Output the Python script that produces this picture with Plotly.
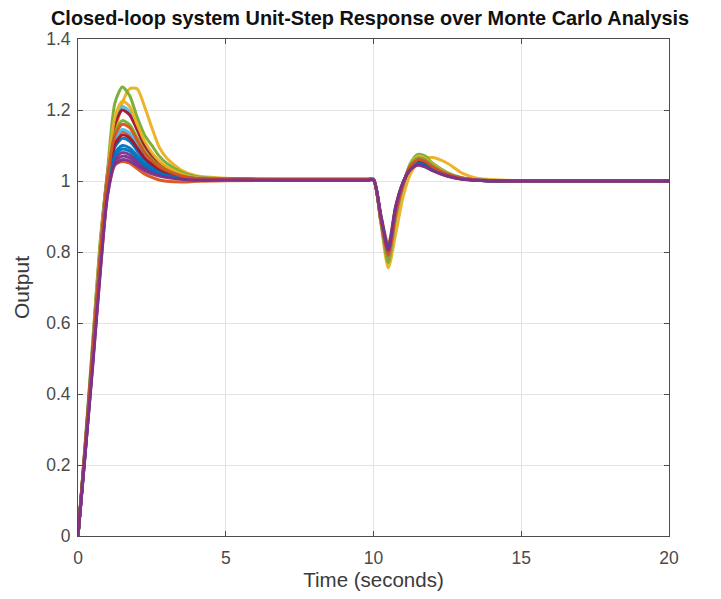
import plotly.graph_objects as go

# Time knots (seconds) shared by every Monte Carlo run
time_s = [0, 0.25, 0.5, 0.75, 1.0, 1.25, 1.5, 1.75, 2.0, 2.25, 2.5, 2.75, 3.0, 3.5, 4.0,
          5.0, 7.0, 9.8, 10.0, 10.25, 10.5, 10.75, 11.0, 11.25, 11.5, 11.75, 12.0, 12.5,
          13.0, 13.5, 14.5, 16.0, 20.0]

# Output of each run (order = drawing order)
run01 = [0, 0.25, 0.51, 0.77, 1.0, 1.08, 1.10, 1.093, 1.072, 1.05, 1.036, 1.025, 1.018, 1.009, 1.005,
         1.005, 1.004, 1.004, 1.004, 0.895, 0.80, 0.92, 0.993, 1.04, 1.055, 1.05, 1.036, 1.017, 1.007, 1.002, 1.0, 1.0, 1.0]
run02 = [0, 0.25, 0.52, 0.78, 1.01, 1.112, 1.14, 1.13, 1.10, 1.07, 1.05, 1.035, 1.025, 1.013, 1.006,
         1.005, 1.004, 1.004, 1.004, 0.89, 0.79, 0.91, 0.99, 1.042, 1.06, 1.055, 1.04, 1.019, 1.008, 1.003, 1.0, 1.0, 1.0]
run03 = [0, 0.25, 0.50, 0.76, 0.99, 1.13, 1.22, 1.26, 1.26, 1.21, 1.15, 1.095, 1.065, 1.03, 1.015,
         1.008, 1.005, 1.005, 1.005, 0.88, 0.755, 0.85, 0.955, 1.02, 1.05, 1.063, 1.066, 1.05, 1.022, 1.008, 1.002, 1.0, 1.0]
run04 = [0, 0.24, 0.49, 0.75, 0.97, 1.064, 1.08, 1.074, 1.058, 1.04, 1.029, 1.02, 1.014, 1.007, 1.004,
         1.004, 1.003, 1.003, 1.003, 0.90, 0.81, 0.925, 0.995, 1.035, 1.05, 1.045, 1.032, 1.015, 1.006, 1.002, 1.0, 1.0, 1.0]
run05 = [0, 0.27, 0.55, 0.83, 1.03, 1.22, 1.265, 1.24, 1.18, 1.13, 1.10, 1.07, 1.05, 1.025, 1.012,
         1.006, 1.005, 1.005, 1.005, 0.885, 0.77, 0.895, 0.985, 1.05, 1.075, 1.07, 1.05, 1.024, 1.009, 1.003, 1.0, 1.0, 1.0]
run06 = [0, 0.26, 0.54, 0.82, 1.02, 1.17, 1.21, 1.195, 1.15, 1.105, 1.075, 1.052, 1.038, 1.019, 1.01,
         1.006, 1.005, 1.005, 1.005, 0.885, 0.78, 0.90, 0.988, 1.046, 1.065, 1.06, 1.044, 1.02, 1.008, 1.003, 1.0, 1.0, 1.0]
run07 = [0, 0.26, 0.53, 0.81, 1.02, 1.16, 1.20, 1.186, 1.144, 1.10, 1.072, 1.05, 1.036, 1.018, 1.009,
         1.006, 1.005, 1.005, 1.005, 0.89, 0.79, 0.905, 0.99, 1.042, 1.06, 1.055, 1.04, 1.019, 1.008, 1.003, 1.0, 1.0, 1.0]
run08 = [0, 0.25, 0.52, 0.78, 1.0, 1.096, 1.12, 1.112, 1.086, 1.06, 1.043, 1.03, 1.022, 1.011, 1.005,
         1.005, 1.004, 1.004, 1.004, 0.895, 0.80, 0.915, 0.992, 1.04, 1.055, 1.05, 1.036, 1.017, 1.007, 1.002, 1.0, 1.0, 1.0]
run09 = [0, 0.24, 0.49, 0.74, 0.96, 1.045, 1.055, 1.05, 1.035, 1.02, 1.01, 1.003, 0.999, 0.997, 0.999,
         1.001, 1.002, 1.002, 1.002, 0.905, 0.82, 0.93, 0.997, 1.032, 1.045, 1.04, 1.029, 1.013, 1.005, 1.002, 1.0, 1.0, 1.0]
run10 = [0, 0.26, 0.54, 0.82, 1.02, 1.18, 1.225, 1.21, 1.16, 1.113, 1.08, 1.056, 1.04, 1.02, 1.01,
         1.006, 1.005, 1.005, 1.005, 0.885, 0.78, 0.895, 0.986, 1.048, 1.07, 1.064, 1.047, 1.021, 1.008, 1.003, 1.0, 1.0, 1.0]
run11 = [0, 0.24, 0.50, 0.76, 0.98, 1.056, 1.07, 1.065, 1.05, 1.035, 1.025, 1.018, 1.013, 1.006, 1.003,
         1.004, 1.003, 1.003, 1.003, 0.895, 0.80, 0.92, 0.994, 1.036, 1.05, 1.045, 1.032, 1.015, 1.006, 1.002, 1.0, 1.0, 1.0]
run12 = [0, 0.26, 0.53, 0.80, 1.01, 1.136, 1.17, 1.158, 1.122, 1.085, 1.061, 1.043, 1.031, 1.015, 1.008,
         1.005, 1.004, 1.004, 1.004, 0.885, 0.78, 0.90, 0.988, 1.046, 1.065, 1.06, 1.044, 1.02, 1.008, 1.003, 1.0, 1.0, 1.0]
run13 = [0, 0.25, 0.52, 0.79, 1.01, 1.116, 1.145, 1.135, 1.104, 1.073, 1.052, 1.036, 1.026, 1.013, 1.007,
         1.005, 1.004, 1.004, 1.004, 0.89, 0.79, 0.905, 0.99, 1.042, 1.06, 1.055, 1.04, 1.019, 1.008, 1.003, 1.0, 1.0, 1.0]
run14 = [0, 0.25, 0.52, 0.78, 1.0, 1.104, 1.13, 1.121, 1.094, 1.065, 1.047, 1.033, 1.023, 1.012, 1.006,
         1.005, 1.004, 1.004, 1.004, 0.895, 0.80, 0.915, 0.992, 1.04, 1.055, 1.05, 1.036, 1.017, 1.007, 1.002, 1.0, 1.0, 1.0]
run15 = [0, 0.25, 0.51, 0.77, 0.99, 1.072, 1.09, 1.084, 1.065, 1.045, 1.032, 1.023, 1.016, 1.008, 1.004,
         1.004, 1.003, 1.003, 1.003, 0.90, 0.81, 0.925, 0.995, 1.035, 1.05, 1.045, 1.032, 1.015, 1.006, 1.002, 1.0, 1.0, 1.0]
run16 = [0, 0.26, 0.52, 0.79, 1.01, 1.128, 1.16, 1.15, 1.115, 1.08, 1.058, 1.04, 1.029, 1.014, 1.007,
         1.005, 1.004, 1.004, 1.004, 0.89, 0.79, 0.905, 0.99, 1.042, 1.06, 1.055, 1.04, 1.019, 1.008, 1.003, 1.0, 1.0, 1.0]
run17 = [0, 0.24, 0.48, 0.74, 0.96, 1.048, 1.06, 1.056, 1.043, 1.03, 1.02, 1.014, 1.01, 1.005, 1.003,
         1.003, 1.003, 1.003, 1.003, 0.90, 0.805, 0.925, 0.995, 1.032, 1.045, 1.04, 1.029, 1.014, 1.005, 1.002, 1.0, 1.0, 1.0]

runs = [run01, run02, run03, run04, run05, run06, run07, run08, run09,
        run10, run11, run12, run13, run14, run15, run16, run17]

# MATLAB default colour order
colors = ["#0072BD", "#D95319", "#EDB120", "#7E2F8E", "#77AC30", "#4DBEEE", "#A2142F"]
run_colors = [colors[0], colors[1], colors[2], colors[3], colors[4], colors[5], colors[6],
              colors[0], colors[1], colors[2], colors[3], colors[4], colors[5], colors[6],
              colors[0], colors[1], colors[3]]

x_ticks = [0, 5, 10, 15, 20]
x_tick_labels = ["0", "5", "10", "15", "20"]
y_ticks = [0, 0.2, 0.4, 0.6, 0.8, 1.0, 1.2, 1.4]
y_tick_labels = ["0", "0.2", "0.4", "0.6", "0.8", "1", "1.2", "1.4"]
title_text = "Closed-loop system Unit-Step Response over Monte Carlo Analysis"

fig = go.Figure()
for vals, col in zip(runs, run_colors):
    fig.add_trace(go.Scatter(x=time_s, y=vals, mode="lines",
                             line=dict(color=col, width=3, shape="spline", smoothing=0.7),
                             opacity=0.95, showlegend=False, hoverinfo="skip"))

font_family = "Liberation Sans, Arial, Helvetica, sans-serif"
axis_col = "#4d4d4d"
fig.update_layout(
    width=705, height=583,
    margin=dict(l=70, r=44, t=31, b=55),
    paper_bgcolor="white", plot_bgcolor="white",
    font=dict(family=font_family, color="#3a3a3a", size=17),
)
fig.add_annotation(text="<b>" + title_text + "</b>", xref="paper", yref="paper",
                   x=0.494, y=1.042, xanchor="center", yanchor="middle", showarrow=False,
                   font=dict(size=19.9, color="#111111", family=font_family))
fig.update_xaxes(range=[0, 20], tickvals=x_ticks, ticktext=x_tick_labels, automargin=False,
                 showline=True, linecolor=axis_col, linewidth=1, mirror="ticks",
                 ticks="inside", ticklen=5, tickcolor=axis_col, ticklabelstandoff=6,
                 showgrid=True, gridcolor="#e3e3e3", gridwidth=1, zeroline=False,
                 title=dict(text="Time (seconds)", font=dict(size=20.5, color="#3a3a3a"), standoff=3),
                 tickfont=dict(size=17.5, color="#4a4a4a"))
fig.update_yaxes(range=[0, 1.4], tickvals=y_ticks, ticktext=y_tick_labels, automargin=False,
                 showline=True, linecolor=axis_col, linewidth=1, mirror="ticks",
                 ticks="inside", ticklen=5, tickcolor=axis_col, ticklabelstandoff=3,
                 showgrid=True, gridcolor="#e3e3e3", gridwidth=1, zeroline=False,
                 title=dict(text="Output", font=dict(size=21, color="#3a3a3a"), standoff=10),
                 tickfont=dict(size=17.5, color="#4a4a4a"))

fig.write_html("out.html")
